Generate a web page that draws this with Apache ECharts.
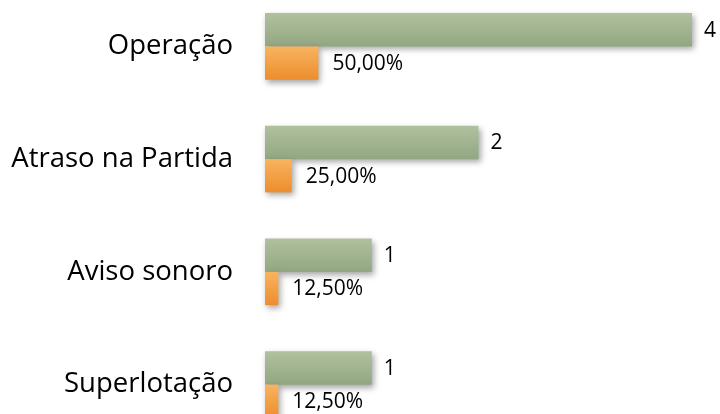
<!DOCTYPE html>
<html>
<head>
<meta charset="utf-8">
<script src="https://cdn.jsdelivr.net/npm/echarts@6/dist/echarts.min.js"></script>
<style>
  html, body { margin: 0; padding: 0; background: #fff; overflow: hidden; }
  #chart { width: 720px; height: 460px; margin-top: -10px; }
</style>
</head>
<body>
<div id="chart"></div>
<script>
var categories = ['Operação', 'Atraso na Partida', 'Aviso sonoro', 'Superlotação'];
var counts = [4, 2, 1, 1];
var shares = [0.5, 0.25, 0.125, 0.125];

function pct(v) {
  return (v * 100).toFixed(2).replace('.', ',') + '%';
}

var chart = echarts.init(document.getElementById('chart'));
var font = 'Open Sans';

chart.setOption({
  animation: false,
  grid: {left: 265, right: 28, top: 0, height: 451},
  xAxis: {
    type: 'value',
    min: 0,
    max: 4,
    show: false
  },
  yAxis: {
    type: 'category',
    data: categories,
    inverse: true,
    axisLine: {show: false},
    axisTick: {show: false},
    axisLabel: {fontSize: 27.5, fontFamily: font, color: '#000', margin: 32}
  },
  series: [
    {
      name: 'Quantidade',
      type: 'bar',
      data: counts,
      barGap: '0%',
      barCategoryGap: '41%',
      itemStyle: {
        color: new echarts.graphic.LinearGradient(0, 0, 0, 1, [
          {offset: 0, color: '#b1c09f'},
          {offset: 1, color: '#92a781'}
        ]),
        shadowColor: 'rgba(0,0,0,0.35)',
        shadowBlur: 6,
        shadowOffsetX: 2,
        shadowOffsetY: 3
      },
      label: {
        show: true,
        position: 'right',
        distance: 12,
        fontSize: 21,
        fontFamily: font,
        color: '#000',
        offset: [0, 1]
      }
    },
    {
      name: 'Percentual',
      type: 'bar',
      data: shares,
      itemStyle: {
        color: new echarts.graphic.LinearGradient(0, 0, 0, 1, [
          {offset: 0, color: '#f9b35f'},
          {offset: 1, color: '#ec8e2e'}
        ]),
        shadowColor: 'rgba(0,0,0,0.35)',
        shadowBlur: 6,
        shadowOffsetX: 2,
        shadowOffsetY: 3
      },
      label: {
        show: true,
        position: 'right',
        distance: 14,
        fontSize: 21,
        fontFamily: font,
        color: '#000',
        offset: [0, 1],
        formatter: function(p) { return pct(p.value); }
      }
    }
  ]
});
</script>
</body>
</html>
